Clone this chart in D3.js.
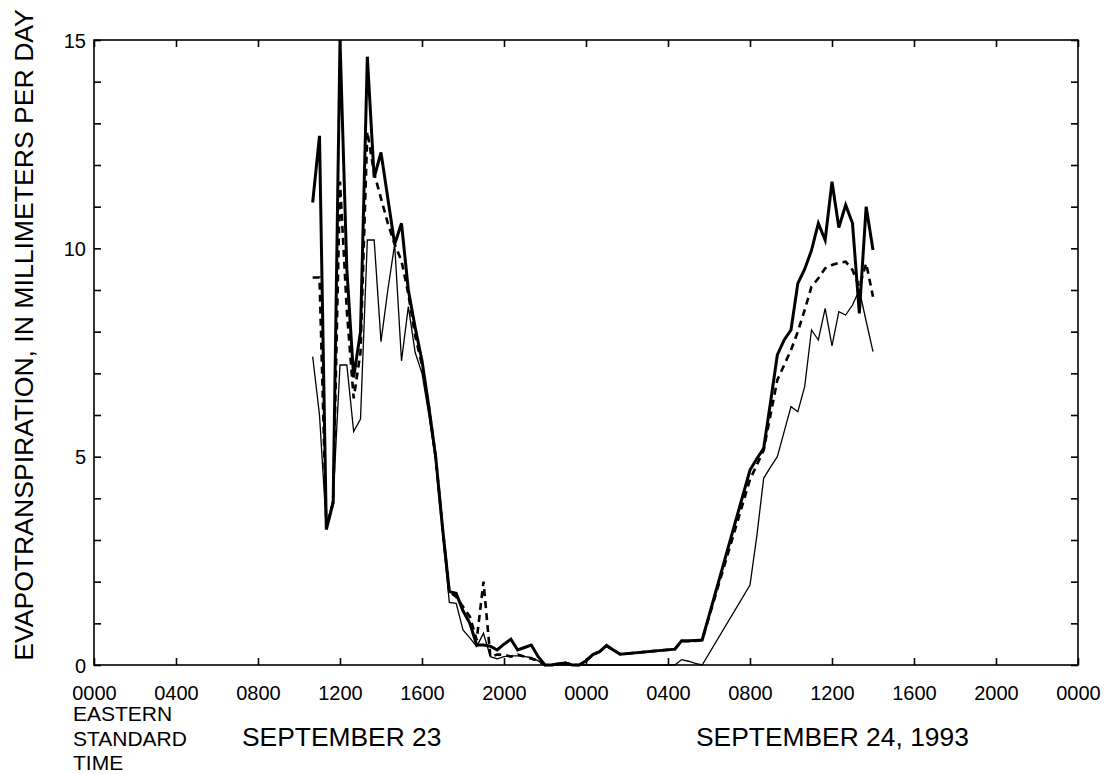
<!DOCTYPE html>
<html>
<head>
<meta charset="utf-8">
<script src="https://cdn.jsdelivr.net/npm/d3@7"></script>
<style>
  body { margin: 0; background: #fff; }
  text { font-family: "Liberation Sans", Arial, Helvetica, sans-serif; fill: #000; }
</style>
</head>
<body>
<svg id="chart" width="1104" height="774"></svg>
<script>
// Observation times (Eastern Standard Time), 20-minute record with gaps overnight
const times = [
  "1993-09-23 10:40","1993-09-23 11:00","1993-09-23 11:20","1993-09-23 11:40","1993-09-23 12:00",
  "1993-09-23 12:20","1993-09-23 12:40","1993-09-23 13:00","1993-09-23 13:20","1993-09-23 13:40",
  "1993-09-23 14:00","1993-09-23 14:20","1993-09-23 14:40","1993-09-23 15:00","1993-09-23 15:20",
  "1993-09-23 15:40","1993-09-23 16:00","1993-09-23 16:20","1993-09-23 16:40","1993-09-23 17:00",
  "1993-09-23 17:20","1993-09-23 17:40","1993-09-23 18:00","1993-09-23 18:20","1993-09-23 18:40",
  "1993-09-23 19:00","1993-09-23 19:20","1993-09-23 19:40","1993-09-23 20:00","1993-09-23 20:20",
  "1993-09-23 20:40","1993-09-23 21:00","1993-09-23 21:20","1993-09-23 21:40","1993-09-23 22:00",
  "1993-09-23 22:20","1993-09-23 22:40","1993-09-23 23:00","1993-09-23 23:20","1993-09-23 23:40",
  "1993-09-24 00:00","1993-09-24 00:20","1993-09-24 00:40","1993-09-24 01:00","1993-09-24 01:20",
  "1993-09-24 01:40","1993-09-24 04:20","1993-09-24 04:40","1993-09-24 05:00","1993-09-24 05:20",
  "1993-09-24 05:40","1993-09-24 08:00","1993-09-24 08:20","1993-09-24 08:40","1993-09-24 09:00",
  "1993-09-24 09:20","1993-09-24 09:40","1993-09-24 10:00","1993-09-24 10:20","1993-09-24 10:40",
  "1993-09-24 11:00","1993-09-24 11:20","1993-09-24 11:40","1993-09-24 12:00","1993-09-24 12:20",
  "1993-09-24 12:40","1993-09-24 13:00","1993-09-24 13:20","1993-09-24 13:40","1993-09-24 14:00"
];

// Evapotranspiration, mm/day — heavy solid curve
const etHeavy = [
  11.1, 12.7, 3.25, 3.9, 15.0,
  9.5, 6.9, 8.0, 14.6, 11.7,
  12.3, 11.2, 10.1, 10.6, 9.0,
  8.1, 7.3, 6.2, 5.0, 3.3,
  1.76, 1.72, 1.3, 1.0, 0.48,
  0.48, 0.45, 0.36, 0.5, 0.62,
  0.36, 0.42, 0.48, 0.2, 0.0,
  0.0, 0.03, 0.05, 0.0, 0.0,
  0.1, 0.25, 0.32, 0.47, 0.36,
  0.26, 0.38, 0.58, 0.58, 0.59,
  0.6, 4.68, 4.95, 5.2, 6.3,
  7.44, 7.8, 8.04, 9.16, 9.5,
  9.95, 10.6, 10.2, 11.6, 10.5,
  11.04, 10.6, 8.44, 11.0, 9.96
];

// Evapotranspiration, mm/day — dashed curve
const etDashed = [
  9.3, 9.3, 3.3, 3.9, 11.6,
  8.5, 6.4, 7.5, 12.8, 11.8,
  11.2, 10.6, 10.1, 9.7, 8.9,
  7.9, 7.2, 6.2, 5.0, 3.3,
  1.76, 1.64, 1.4, 1.16, 0.6,
  2.0, 0.2, 0.25, 0.25, 0.2,
  0.25, 0.2, 0.15, 0.1, 0.0,
  0.0, 0.03, 0.05, 0.0, 0.0,
  0.1, 0.25, 0.32, 0.46, 0.36,
  0.26, 0.38, 0.57, 0.57, 0.58,
  0.6, 4.45, 4.8, 5.16, 6.0,
  6.84, 7.2, 7.56, 8.0, 8.52,
  9.08, 9.28, 9.52, 9.6, 9.65,
  9.68, 9.48, 9.08, 9.64, 8.84
];

// Evapotranspiration, mm/day — light solid curve
const etLight = [
  7.4, 6.0, 3.3, 4.0, 7.2,
  7.2, 5.6, 5.9, 10.2, 10.2,
  7.76, 9.0, 10.1, 7.3, 8.6,
  7.5, 7.0, 6.0, 4.9, 3.2,
  1.5, 1.48, 0.84, 0.65, 0.44,
  0.76, 0.2, 0.15, 0.2, 0.22,
  0.22, 0.2, 0.18, 0.1, 0.0,
  0.0, 0.0, 0.0, 0.0, 0.0,
  0.0, 0.0, 0.0, 0.0, 0.0,
  0.0, 0.0, 0.13, 0.09, 0.04,
  0.0, 1.92, 3.1, 4.48, 4.75,
  5.0, 5.6, 6.2, 6.08, 6.68,
  8.04, 7.8, 8.56, 7.66, 8.48,
  8.4, 8.64, 9.0, 8.25, 7.52
];

const timeDomain = ["1993-09-23 00:00", "1993-09-25 00:00"];
const yLabelValues = [0, 5, 10, 15];
const dayLabels = ["SEPTEMBER 23", "SEPTEMBER 24, 1993"];
const zoneLabel = ["EASTERN", "STANDARD", "TIME"];
const yTitle = "EVAPOTRANSPIRATION, IN MILLIMETERS PER DAY";

const parse = d3.timeParse("%Y-%m-%d %H:%M");
const T = times.map(parse);

const svg = d3.select("#chart");
const plotLeft = 94, plotRight = 1078, plotTop = 40, plotBottom = 665;

const x = d3.scaleTime().domain(timeDomain.map(parse)).range([plotLeft, plotRight]);
const y = d3.scaleLinear().domain([0, 15]).range([plotBottom, plotTop]);

const xTicks = d3.timeHour.every(4).range(x.domain()[0], new Date(+x.domain()[1] + 1));
const yTicks = d3.range(0, 16, 1);
const fmt = d3.timeFormat("%H%M");

// Axes with inward ticks on all four sides
const gB = svg.append("g").attr("transform", `translate(0,${plotBottom})`)
  .call(d3.axisBottom(x).tickValues(xTicks).tickFormat(fmt).tickSizeInner(-7).tickSizeOuter(0).tickPadding(21));
const gT = svg.append("g").attr("transform", `translate(0,${plotTop})`)
  .call(d3.axisTop(x).tickValues(xTicks).tickFormat("").tickSizeInner(-7).tickSizeOuter(0));
const gL = svg.append("g").attr("transform", `translate(${plotLeft},0)`)
  .call(d3.axisLeft(y).tickValues(yTicks).tickFormat(d => yLabelValues.includes(d) ? d : "")
        .tickSizeInner(-7).tickSizeOuter(0).tickPadding(8));
const gR = svg.append("g").attr("transform", `translate(${plotRight},0)`)
  .call(d3.axisRight(y).tickValues(yTicks).tickFormat("").tickSizeInner(-7).tickSizeOuter(0));

[gB, gT, gL, gR].forEach(g => {
  g.select(".domain").remove();
  g.selectAll(".tick line").attr("stroke", "#000").attr("stroke-width", 1.6);
  g.selectAll(".tick text").style("font-size", "20px").attr("fill", "#000");
});
gL.selectAll(".tick text").attr("dy", "0.35em");

// Plot frame
svg.append("rect")
  .attr("x", plotLeft).attr("y", plotTop)
  .attr("width", plotRight - plotLeft).attr("height", plotBottom - plotTop)
  .attr("fill", "none").attr("stroke", "#000").attr("stroke-width", 1.6);

// Curves
const line = d3.line().x((d, i) => x(T[i])).y(d => y(d));
const curves = [
  { values: etLight,  width: 1.3, dash: null },
  { values: etDashed, width: 2.6, dash: "7,5" },
  { values: etHeavy,  width: 3.0, dash: null }
];
svg.append("g").selectAll("path").data(curves).join("path")
  .attr("d", c => line(c.values))
  .attr("fill", "none")
  .attr("stroke", "#000")
  .attr("stroke-width", c => c.width)
  .attr("stroke-dasharray", c => c.dash)
  .attr("stroke-linejoin", "miter")
  .attr("stroke-miterlimit", 4);

// Y-axis title
svg.append("text")
  .attr("transform", "translate(33,335) rotate(-90)")
  .attr("text-anchor", "middle")
  .style("font-size", "26.6px")
  .text(yTitle);

// Time zone caption under the first tick labels
svg.append("text")
  .style("font-size", "21px")
  .selectAll("tspan").data(zoneLabel).join("tspan")
  .attr("x", 73).attr("y", (d, i) => 721 + i * 24.5)
  .text(d => d);

// Date captions
svg.append("text").attr("x", 242).attr("y", 746).style("font-size", "26.4px").text(dayLabels[0]);
svg.append("text").attr("x", 696).attr("y", 746).style("font-size", "26.4px").text(dayLabels[1]);
</script>
</body>
</html>
